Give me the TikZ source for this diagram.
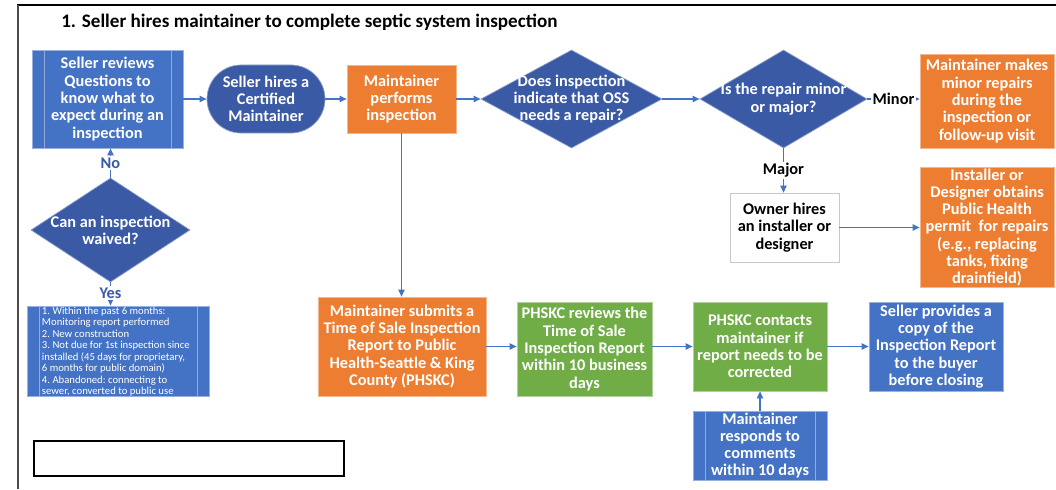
\documentclass[tikz,border=0pt]{standalone}
\usepackage{fontspec}
\setmainfont{Carlito}
\usetikzlibrary{shapes.geometric,arrows.meta}
\definecolor{boxblue}{HTML}{4472C4}
\definecolor{darkblue}{HTML}{3B5AA6}
\definecolor{boxorange}{HTML}{ED7D31}
\definecolor{boxgreen}{HTML}{70AD47}
\definecolor{lineblue}{HTML}{4472C4}
\definecolor{edgegray}{HTML}{C8C8C8}
\newcommand{\boxfont}{\fontsize{11.6}{12.3}\selectfont\bfseries}
\begin{document}
\begin{tikzpicture}[x=0.025cm, y=-0.025cm,
  >={Triangle[length=5pt,width=4.5pt]},
  box/.style={rectangle, fill=#1, draw=#1!55!white, line width=0.5pt,
    text=white, font=\boxfont, align=center, inner sep=1pt},
  whitebox/.style={rectangle, fill=white, draw=edgegray, line width=0.5pt,
    font=\boxfont, align=center, inner sep=1pt},
  process/.style={box=boxblue, path picture={
    \draw[boxblue!60!white, line width=0.5pt]
      ([xshift=0.3cm]path picture bounding box.north west) --
      ([xshift=0.3cm]path picture bounding box.south west)
      ([xshift=-0.3cm]path picture bounding box.north east) --
      ([xshift=-0.3cm]path picture bounding box.south east);}},
  dia/.style={diamond, fill=darkblue, draw=darkblue!60!white, line width=0.5pt,
    inner sep=0pt, label={[text=white, font=\boxfont, align=center]center:#1}},
  flow/.style={->, draw=lineblue, line width=0.9pt},
  lbl/.style={fill=white, inner sep=1pt, font=\boxfont},
  answer/.style={lbl, text=darkblue}]
\useasboundingbox (0,0) rectangle (1056,489);
% frame and title
\draw[line width=1.4pt] (17,5) -- (1056,5);
\draw[line width=1.4pt, black!70] (18,5) -- (18,489);
\node (title) [anchor=west, font=\fontsize{13.6}{15}\selectfont\bfseries, inner sep=0pt]
  at (61,22) {1. Seller hires maintainer to complete septic system inspection};

% top row
\node (sreview) [process, minimum width=3.775cm, minimum height=2.45cm] at (107.5,99)
  {Seller reviews\\Questions to\\know what to\\expect during an\\inspection};
\node (shire) [box=darkblue, rounded corners=0.85cm, minimum width=2.95cm, minimum height=1.7cm]
  at (266,99) {Seller hires a\\Certified\\Maintainer};
\node (mperf) [box=boxorange, minimum width=2.725cm, minimum height=1.7cm] at (401.5,99)
  {Maintainer\\performs\\inspection};
\node (dq) [dia={Does inspection\\indicate that OSS\\needs a repair?}, minimum width=4.525cm,
  minimum height=2.45cm] at (571.5,99) {};
\node (rq) [dia={Is the repair minor\\or major?}, minimum width=4.175cm,
  minimum height=2.45cm] at (783.5,99) {};
\node (minorrep) [box=boxorange, minimum width=3.35cm, minimum height=2.35cm] at (987,101)
  {Maintainer makes\\minor repairs\\during the\\inspection or\\follow-up visit};
\node (owner) [whitebox, minimum width=2.725cm, minimum height=1.725cm] at (784.5,227.5)
  {Owner hires\\an installer or\\designer};
\node (permit) [box=boxorange, minimum width=3.35cm, minimum height=2.975cm] at (987,227.5)
  {Installer or\\Designer obtains\\Public Health\\permit\ \ for repairs\\(e.g., replacing\\tanks, fixing\\drainfield)};

% waiver branch
\node (waive) [dia={Can an inspection\\waived?}, minimum width=3.975cm,
  minimum height=2.6cm] at (110.5,230) {};
\node (yeslist) [process, minimum width=4.55cm, minimum height=2.25cm, inner sep=0pt,
  font=\fontsize{7.6}{8.2}\selectfont] at (118,351)
  {\parbox[c][2.25cm][t]{3.8cm}{\raggedright\frenchspacing\vspace{0.5pt}
   1. Within the past 6 months:\\Monitoring report performed\\2. New construction\\3. Not due for 1st inspection since\\installed (45 days for proprietary,\\6 months for public domain)\\4. Abandoned: connecting to\\sewer, converted to public use}};

% bottom row
\node (submit) [box=boxorange, minimum width=4.2cm, minimum height=2.475cm] at (402,346.5)
  {Maintainer submits a\\Time of Sale Inspection\\Report to Public\\Health-Seattle \& King\\County (PHSKC)};
\node (review) [box=boxgreen, minimum width=3.375cm, minimum height=2.35cm] at (584.5,349)
  {PHSKC reviews the\\Time of Sale\\Inspection Report\\within 10 business\\days};
\node (contact) [box=boxgreen, minimum width=3.35cm, minimum height=2.225cm] at (760,346.5)
  {PHSKC contacts\\maintainer if\\report needs to be\\corrected};
\node (provide) [box=boxblue, minimum width=3.35cm, minimum height=2.225cm] at (936,346.5)
  {Seller provides a\\copy of the\\Inspection Report\\to the buyer\\before closing};
\node (respond) [process, minimum width=3.35cm, minimum height=1.725cm] at (760,445.5)
  {Maintainer\\responds to\\comments\\within 10 days};
\node (blank) [draw, line width=1.5pt, minimum width=7.75cm, minimum height=0.875cm]
  at (189,458.5) {};

% connectors
\draw[flow] (sreview) -- (shire);
\draw[flow] (shire) -- (mperf);
\draw[flow] (mperf) -- (dq);
\draw[flow] (dq) -- (rq);
\draw[flow] (rq.east) -- node[lbl] {Minor} (rq.east -| minorrep.west);
\draw[flow] (rq.south) -- node[lbl] {Major} (rq.south |- owner.north);
\draw[flow] (owner) -- (owner -| permit.west);
\draw[flow] (mperf.south) -- (mperf.south |- submit.north);
\draw[flow] (waive.north) -- node[answer] {No} (waive.north |- sreview.south);
\draw[flow] (waive.south) -- node[answer, pos=0.45] {Yes} (waive.south |- yeslist.north);
\draw[flow] (submit.east) -- (submit.east -| review.west);
\draw[flow] (contact.west -| review.east) -- (contact.west);
\draw[flow] (contact) -- (provide);
\draw[flow] (respond) -- (contact);
\end{tikzpicture}
\end{document}
